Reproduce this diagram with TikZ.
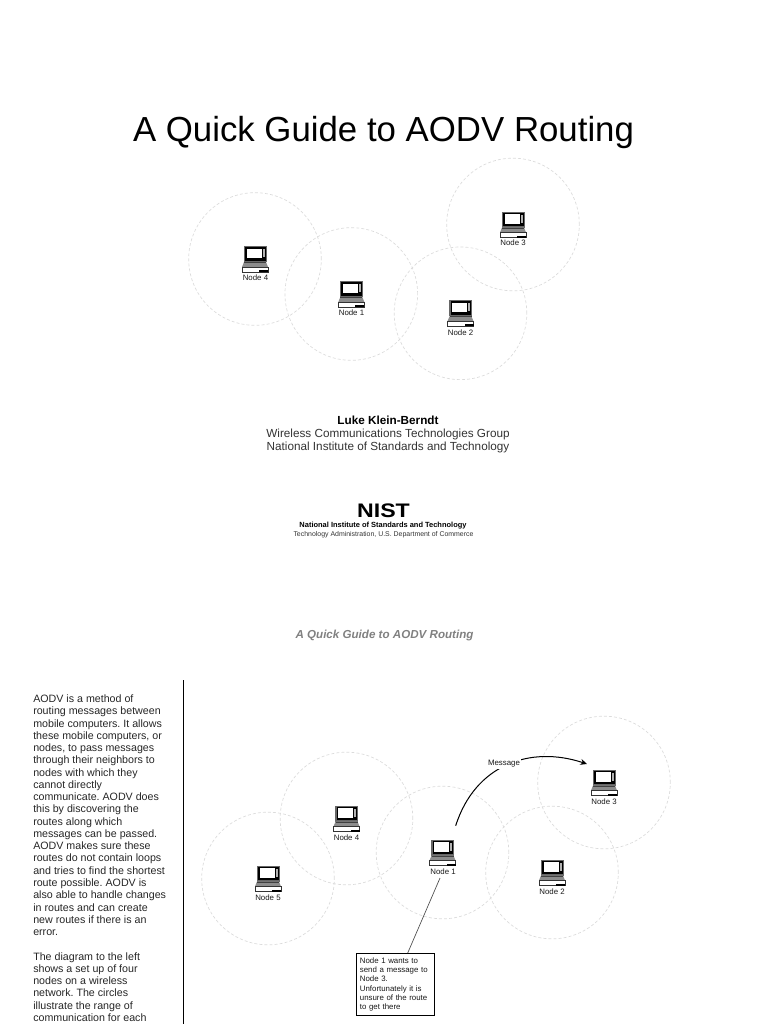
\documentclass[tikz,border=0pt]{standalone}
\usepackage{fontspec}
\setmainfont{Liberation Sans}
\frenchspacing
\usetikzlibrary{arrows.meta, positioning}
\tikzset{
  rangecircle/.style={draw=black!14, dash pattern=on 2.2pt off 1.6pt, line width=0.5pt, circle, minimum size=99.5pt, inner sep=0pt},
  nodelabel/.style={font=\fontsize{5.9}{6}\selectfont, black!90, inner sep=0pt},
  bodytext/.style={font=\fontsize{8}{9.2}\selectfont, black!85, align=left, anchor=north west, inner sep=0pt},
  laptop/.pic={
    \fill[black!60] (-11.5,-13) rectangle (11.5,3);
    \fill[black] (-10,-12) rectangle (10.5,1.5);
    \fill[white] (-8.5,-10.5) rectangle (6.5,-1);
    \fill[black!30] (7.5,-10) rectangle (9.5,-2);
    \fill[black!45] (-11,3) -- (11,3) -- (13,8) -- (-13,8) -- cycle;
    \fill[black!75] (-11,3) rectangle (11,4);
    \fill[white] (-13,8) rectangle (13,12);
    \draw[black!80, line width=0.6pt] (-13,8) -- (-13,13) -- (13,13) -- (13,8) -- cycle;
    \fill[black] (4,11) rectangle (13,13);
  }
}
\begin{document}
\begin{tikzpicture}[x=0.75pt, y=-0.75pt]
  \useasboundingbox (0,0) rectangle (768,1024);

  % Title
  \node[font=\fontsize{26.1}{30}\selectfont] (title) at (383.5,132.5) {A Quick Guide to AODV Routing};

  % Top ranges
  \node[rangecircle] (topr4) at (255,259) {};
  \node[rangecircle] (topr1) at (351.3,294) {};
  \node[rangecircle] (topr2) at (460.5,313.3) {};
  \node[rangecircle] (topr3) at (513,224.5) {};

  % Top laptops
  \pic at (255,259) {laptop};
  \pic at (351.3,294) {laptop};
  \pic at (460.5,313.3) {laptop};
  \pic at (513,224.5) {laptop};
  \node[nodelabel] (topn4) at (255.5,278) {Node 4};
  \node[nodelabel] (topn1) at (351.5,313) {Node 1};
  \node[nodelabel] (topn2) at (460.5,333) {Node 2};
  \node[nodelabel] (topn3) at (513,243) {Node 3};

  % Author
  \node[font=\fontsize{8.8}{10}\selectfont\bfseries] (author) at (388,420) {Luke Klein-Berndt};
  \node[font=\fontsize{8.8}{10}\selectfont, black!80] (group) at (388,434) {Wireless Communications Technologies Group};
  \node[font=\fontsize{8.8}{10}\selectfont, black!80] (inst) at (388,447.5) {National Institute of Standards and Technology};

  % Logo
  \node[font=\fontsize{14.7}{16}\selectfont\bfseries, inner sep=0pt] (logo) at (383.5,511) {\scalebox{1.18}[1]{NIST}};
  \node[font=\fontsize{5.6}{6}\selectfont\bfseries, inner sep=0pt] (logoa) at (383,526) {National Institute of Standards and Technology};
  \node[font=\fontsize{5.2}{6}\selectfont, black!80, inner sep=0pt] (logob) at (383.5,535) {Technology Administration, U.S. Department of Commerce};

  % Caption
  \node[font=\fontsize{8.7}{10}\selectfont\bfseries\itshape, black!50] (caption) at (384.5,635) {A Quick Guide to AODV Routing};

  % Side text
  \node[bodytext] (side) at (33,694.5) {AODV is a method of\\routing messages between\\mobile computers. It allows\\these mobile computers, or\\nodes, to pass messages\\through their neighbors to\\nodes with which they\\cannot directly\\communicate. AODV does\\this by discovering the\\routes along which\\messages can be passed.\\AODV makes sure these\\routes do not contain loops\\and tries to find the shortest\\route possible. AODV is\\also able to handle changes\\in routes and can create\\new routes if there is an\\error.\\[9.2pt]The diagram to the left\\shows a set up of four\\nodes on a wireless\\network. The circles\\illustrate the range of\\communication for each};
  \coordinate (ruletop) at (183.5,680);
  \coordinate (rulebot) at (183.5,1024);
  \draw[black, line width=0.75pt] (ruletop) -- (rulebot);

  % Bottom ranges
  \node[rangecircle] (botr5) at (268,878.5) {};
  \node[rangecircle] (botr4) at (346.5,818.5) {};
  \node[rangecircle] (botr1) at (442.5,852.5) {};
  \node[rangecircle] (botr2) at (552,872.5) {};
  \node[rangecircle] (botr3) at (604,782.5) {};

  % Bottom laptops
  \pic at (268,878.5) {laptop};
  \pic at (346.5,818.5) {laptop};
  \pic at (442.5,852.5) {laptop};
  \pic at (552,872.5) {laptop};
  \pic at (604,782.5) {laptop};
  \node[nodelabel] (botn5) at (268,898) {Node 5};
  \node[nodelabel] (botn4) at (346.5,837.5) {Node 4};
  \node[nodelabel] (botn1) at (443,871.5) {Node 1};
  \node[nodelabel] (botn2) at (552,891.5) {Node 2};
  \node[nodelabel] (botn3) at (604,802) {Node 3};

  % Message arrow
  \coordinate (msgstart) at (455.7,825.7);
  \coordinate (msgend) at (587,764);
  \draw[black, line width=0.75pt, -{Stealth[length=5pt,width=4.5pt]}] (msgstart) .. controls (475,765) and (530,745) .. (msgend);
  \node[nodelabel, fill=white, inner sep=1pt] (msg) at (504,764) {Message};

  % Note
  \node[draw=black, line width=0.6pt, font=\fontsize{5.9}{7}\selectfont, text=black!90, align=left, anchor=north west, inner sep=3pt, text width=53pt, minimum height=46.2pt] (note) at (355.5,953) {Node 1 wants to\\send a message to\\Node 3.\\Unfortunately it is\\unsure of the route\\to get there};
  \coordinate (linestart) at (440,878);
  \coordinate (linejoin) at (407.7,953);
  \draw[black!70, line width=0.5pt] (linestart) -- (linejoin);
\end{tikzpicture}
\end{document}
